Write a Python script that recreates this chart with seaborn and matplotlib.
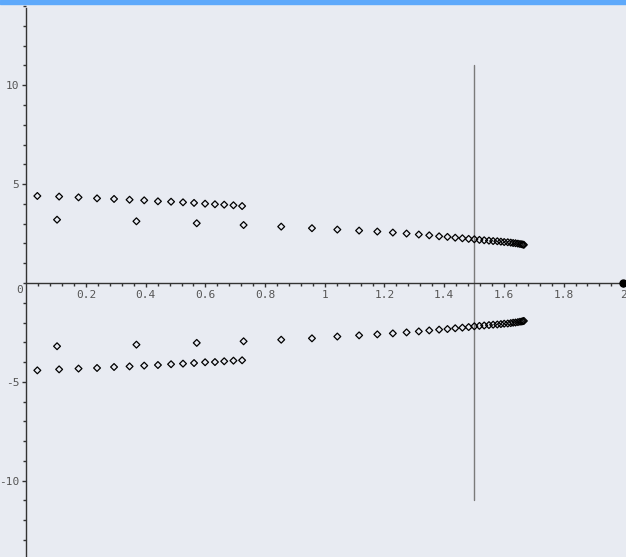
import numpy as np
import matplotlib
matplotlib.use("Agg")
import matplotlib.pyplot as plt
from matplotlib.patches import Rectangle
from matplotlib.ticker import MultipleLocator, FixedLocator
import seaborn as sns

sns.set_style("dark", {"axes.facecolor": "#e8ebf2", "figure.facecolor": "#e8ebf2"})

# upper branch (first row, second row, main curve)
upper_x = [0.037, 0.110, 0.175, 0.237, 0.294, 0.346, 0.395, 0.441, 0.485, 0.525,
           0.562, 0.599, 0.632, 0.663, 0.694, 0.723,
           0.103, 0.369, 0.571,
           0.728, 0.854, 0.957, 1.042, 1.115, 1.176, 1.228, 1.274, 1.315, 1.350,
           1.383, 1.411, 1.437, 1.461, 1.482, 1.501, 1.518, 1.534, 1.550, 1.564,
           1.578, 1.590, 1.601, 1.613, 1.623, 1.631, 1.639, 1.647, 1.654, 1.660,
           1.664, 1.667]
upper_y = [4.40, 4.37, 4.33, 4.28, 4.25, 4.21, 4.18, 4.13, 4.11, 4.08,
           4.05, 4.01, 3.98, 3.96, 3.93, 3.89,
           3.20, 3.12, 3.02,
           2.93, 2.85, 2.77, 2.70, 2.65, 2.60, 2.55, 2.50, 2.45, 2.41,
           2.36, 2.33, 2.29, 2.26, 2.23, 2.21, 2.18, 2.16, 2.14, 2.12,
           2.11, 2.09, 2.07, 2.06, 2.04, 2.02, 2.01, 1.99, 1.97, 1.96,
           1.94, 1.93]

# lower branch
lower_x = [0.037, 0.110, 0.175, 0.237, 0.294, 0.346, 0.395, 0.441, 0.485, 0.525,
           0.562, 0.599, 0.632, 0.663, 0.694, 0.723,
           0.103, 0.369, 0.571,
           0.728, 0.854, 0.957, 1.042, 1.115, 1.176, 1.228, 1.274, 1.315, 1.350,
           1.383, 1.411, 1.437, 1.461, 1.482, 1.501, 1.518, 1.534, 1.550, 1.564,
           1.578, 1.590, 1.601, 1.613, 1.623, 1.631, 1.639, 1.647, 1.654, 1.660,
           1.664, 1.667]
lower_y = [-4.42, -4.37, -4.33, -4.30, -4.25, -4.22, -4.18, -4.15, -4.11, -4.08,
           -4.05, -4.01, -4.00, -3.96, -3.93, -3.91,
           -3.20, -3.12, -3.03,
           -2.95, -2.87, -2.80, -2.71, -2.65, -2.60, -2.55, -2.50, -2.45, -2.40,
           -2.36, -2.33, -2.29, -2.26, -2.23, -2.19, -2.17, -2.15, -2.13, -2.11,
           -2.10, -2.08, -2.06, -2.05, -2.03, -2.01, -2.00, -1.98, -1.96, -1.95,
           -1.93, -1.92]

end_point = (2.0, 0.0)
vline_x = 1.5
vline_y = (-11, 11)

xticks = [0.2, 0.4, 0.6, 0.8, 1.0, 1.2, 1.4, 1.6, 1.8, 2.0]
xticklabels = ["0.2", "0.4", "0.6", "0.8", "1", "1.2", "1.4", "1.6", "1.8", "2"]
yticks = [-10, -5, 5, 10]
yticklabels = ["-10", "-5", "5", "10"]

W, H = 626, 557
fig = plt.figure(figsize=(W / 100, H / 100), dpi=100)
ax = fig.add_axes([0, 0, 1, (H - 4) / H])
fig.patches.append(Rectangle((0, (H - 4) / H), 1, 4 / H, transform=fig.transFigure,
                             color="#5ea9fb", zorder=10))

ax.plot([vline_x, vline_x], vline_y, color="#7a7a7a", lw=1.0, zorder=1)

for xs, ys in [(upper_x, upper_y), (lower_x, lower_y)]:
    sns.scatterplot(x=xs, y=ys, ax=ax, marker="D", s=12, facecolor="none",
                    edgecolor="black", linewidth=0.9, zorder=3)

ax.plot(*end_point, marker="o", color="black", ms=5, zorder=4, clip_on=False)

ax.set_xlim(-0.0881, 2.0091)
ax.set_ylim(-13.86, 14.11)

for s in ["top", "right"]:
    ax.spines[s].set_visible(False)
ax.spines["left"].set_position(("data", 0))
ax.spines["bottom"].set_position(("data", 0))
ax.spines["left"].set_bounds(-13.86, 13.91)
ax.spines["bottom"].set_bounds(0, 2.0)
for s in ["left", "bottom"]:
    ax.spines[s].set_color("#333333")
    ax.spines[s].set_linewidth(1.0)

ax.set_xticks(xticks)
ax.set_xticklabels(xticklabels)
ax.set_yticks(yticks)
ax.set_yticklabels(yticklabels)
ax.xaxis.set_minor_locator(FixedLocator([i * 0.04 for i in range(1, 50) if i % 5]))
ax.yaxis.set_minor_locator(MultipleLocator(1))
ax.tick_params(which="both", direction="out", color="#333333", width=1,
               labelsize=8, labelcolor="#555555", bottom=True, left=True)
ax.tick_params(which="major", length=3, pad=2)
ax.tick_params(which="minor", length=2)
for lab in ax.get_xticklabels() + ax.get_yticklabels():
    lab.set_family("DejaVu Sans Mono")

ax.text(-0.021, -0.35, "0", ha="center", va="center", fontsize=8,
        color="#555555", family="DejaVu Sans Mono")
ax.grid(False)

fig.savefig("out.png", dpi=100, facecolor=fig.get_facecolor())
